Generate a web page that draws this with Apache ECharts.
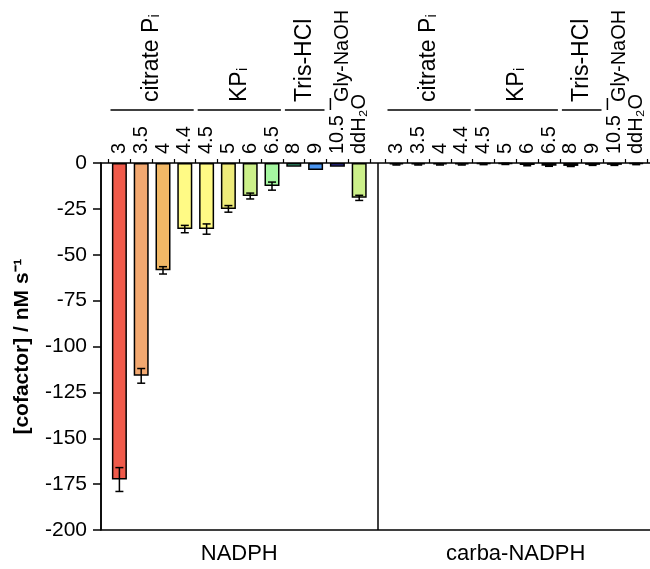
<!DOCTYPE html>
<html>
<head>
<meta charset="utf-8">
<script src="https://cdn.jsdelivr.net/npm/echarts@6/dist/echarts.min.js"></script>
<style>html,body{margin:0;padding:0;background:#fff}#main{width:650px;height:569px}</style>
</head>
<body>
<div id="main"></div>
<script>
// buffer pH values (top labels)
var categories=['3','3.5','4','4.4','4.5','5','6','6.5','8','9','10.5','ddH₂O'];
var cofactors=['NADPH','carba-NADPH'];
// rates, nM s-1
var nadph=[-172.5,-116,-58.5,-36,-36,-25,-18,-12.6,-2,-3.8,-2,-19];
var nadphErr=[6.5,4,2,2,2.8,1.8,1.6,2.2,0,0,0,1.4];
var carba=[-0.8,-0.8,-0.8,-0.8,-0.6,-0.5,-1.1,-1.5,-1.6,-1,-1,-0.6];
var carbaErr=[0.3,0.3,0.3,0.3,0.3,0.3,0.4,0.3,0.3,0.3,0.3,0.3];
var colors=['#f05a4a','#f2a870','#f2b866','#fffa85','#fffa85','#eeeb7a','#ccf08a','#a5f7a0','#4cd9a3','#4a95f0','#3f3fd6','#ccf08a'];
var groupNames=['citrate Pᵢ','KPᵢ','Tris-HCl','Gly-NaOH'];
var groupFrom=[0,4,8,10];
var groupTo=[3,7,9,10];

var FONT='"Liberation Sans", Arial, sans-serif';
var myChart=echarts.init(document.getElementById('main'));

function barData(vals){
	return vals.map(function(v,i){
		return {value:v,itemStyle:{color:colors[i]}};
	});
}
function errData(vals,errs){
	return vals.map(function(v,i){return [i,v,errs[i]];});
}
function errRender(params,api){
	var x=api.value(0),v=api.value(1),e=api.value(2);
	if(!e) return null;
	var lo=api.coord([x,v-e]),hi=api.coord([x,v+e]);
	var w=4,st={stroke:'#000',lineWidth:1.5};
	return {type:'group',children:[
		{type:'line',shape:{x1:lo[0],y1:lo[1],x2:hi[0],y2:hi[1]},style:st},
		{type:'line',shape:{x1:lo[0]-w,y1:lo[1],x2:lo[0]+w,y2:lo[1]},style:st},
		{type:'line',shape:{x1:hi[0]-w,y1:hi[1],x2:hi[0]+w,y2:hi[1]},style:st}
	]};
}

var topAxis=function(gi){
	return {
		type:'category',gridIndex:gi,position:'top',data:categories,
		axisLine:{show:false},
		axisTick:{show:true,length:4,lineStyle:{color:'#000',width:1.2}},
		axisLabel:{rotate:90,margin:9,fontSize:20,color:'#000',fontFamily:FONT,interval:0}
	};
};

var option={
	animation:false,
	backgroundColor:'#fff',
	grid:[
		{left:101,top:163,width:553,height:367,containLabel:false,outerBoundsMode:'none'},
		{left:108.5,top:163,width:261.6,height:367,containLabel:false,outerBoundsMode:'none'},
		{left:385.5,top:163,width:261.6,height:367,containLabel:false,outerBoundsMode:'none'}
	],
	xAxis:[
		{
			type:'category',gridIndex:0,data:cofactors,position:'bottom',
			axisLine:{onZero:false,lineStyle:{color:'#000',width:1.5}},
			axisTick:{alignWithLabel:true,length:9,lineStyle:{color:'#000',width:1.5}},
			axisLabel:{fontSize:22,color:'#000',margin:13,fontFamily:FONT},
			splitLine:{show:true,lineStyle:{color:'#000',width:1.5}}
		},
		{
			type:'category',gridIndex:0,data:cofactors,position:'top',
			axisLine:{onZero:false,lineStyle:{color:'#000',width:1.5}},
			axisTick:{show:false},axisLabel:{show:false}
		},
		topAxis(1),
		topAxis(2)
	],
	yAxis:[
		{
			type:'value',gridIndex:0,min:-200,max:0,interval:25,
			name:'[cofactor] / nM s⁻¹',nameLocation:'middle',nameGap:68,
			nameTextStyle:{fontSize:21,fontWeight:'bold',color:'#000',fontFamily:FONT},
			axisLine:{show:true,lineStyle:{color:'#000',width:1.5}},
			axisTick:{show:true,length:8,lineStyle:{color:'#000',width:1.5}},
			axisLabel:{fontSize:21,color:'#000',margin:14,fontFamily:FONT},
			splitLine:{show:false}
		},
		{type:'value',gridIndex:1,min:-200,max:0,show:false},
		{type:'value',gridIndex:2,min:-200,max:0,show:false}
	],
	series:[
		{type:'bar',name:'NADPH',xAxisIndex:2,yAxisIndex:1,barWidth:15,data:barData(nadph),
			itemStyle:{borderColor:'#000',borderWidth:1.5}},
		{type:'custom',xAxisIndex:2,yAxisIndex:1,renderItem:errRender,data:errData(nadph,nadphErr),z:5},
		{type:'bar',name:'carba-NADPH',xAxisIndex:3,yAxisIndex:2,barWidth:15,data:barData(carba),
			itemStyle:{borderColor:'#000',borderWidth:1.5}},
		{type:'custom',xAxisIndex:3,yAxisIndex:2,renderItem:errRender,data:errData(carba,carbaErr),z:5}
	]
};
myChart.setOption(option);

//buffer groups above the pH labels
var graphics=[];
[2,3].forEach(function(ax){
	var bw=myChart.getModel().getComponent('xAxis',ax).axis.getBandWidth();
	for(var g=0;g<groupNames.length;g++){
		var x0=myChart.convertToPixel({xAxisIndex:ax},categories[groupFrom[g]]);
		var x1=myChart.convertToPixel({xAxisIndex:ax},categories[groupTo[g]]);
		var cx=(x0+x1)/2;
		var single=groupFrom[g]==groupTo[g];
		if(!single){
			graphics.push({type:'line',shape:{x1:x0-bw/2+2,y1:110,x2:x1+bw/2-2,y2:110},style:{stroke:'#000',lineWidth:1.5}});
		}else{
			graphics.push({type:'line',shape:{x1:x0-7,y1:98,x2:x0-7,y2:110},style:{stroke:'#000',lineWidth:1.5}});
		}
		graphics.push({type:'text',x:cx+(single?5:0),y:102,rotation:Math.PI/2,
			style:{text:groupNames[g],fontSize:single?20:23,fill:'#000',fontFamily:FONT,align:'left',verticalAlign:'middle'}});
	}
});
myChart.setOption({graphic:graphics});
</script>
</body>
</html>
